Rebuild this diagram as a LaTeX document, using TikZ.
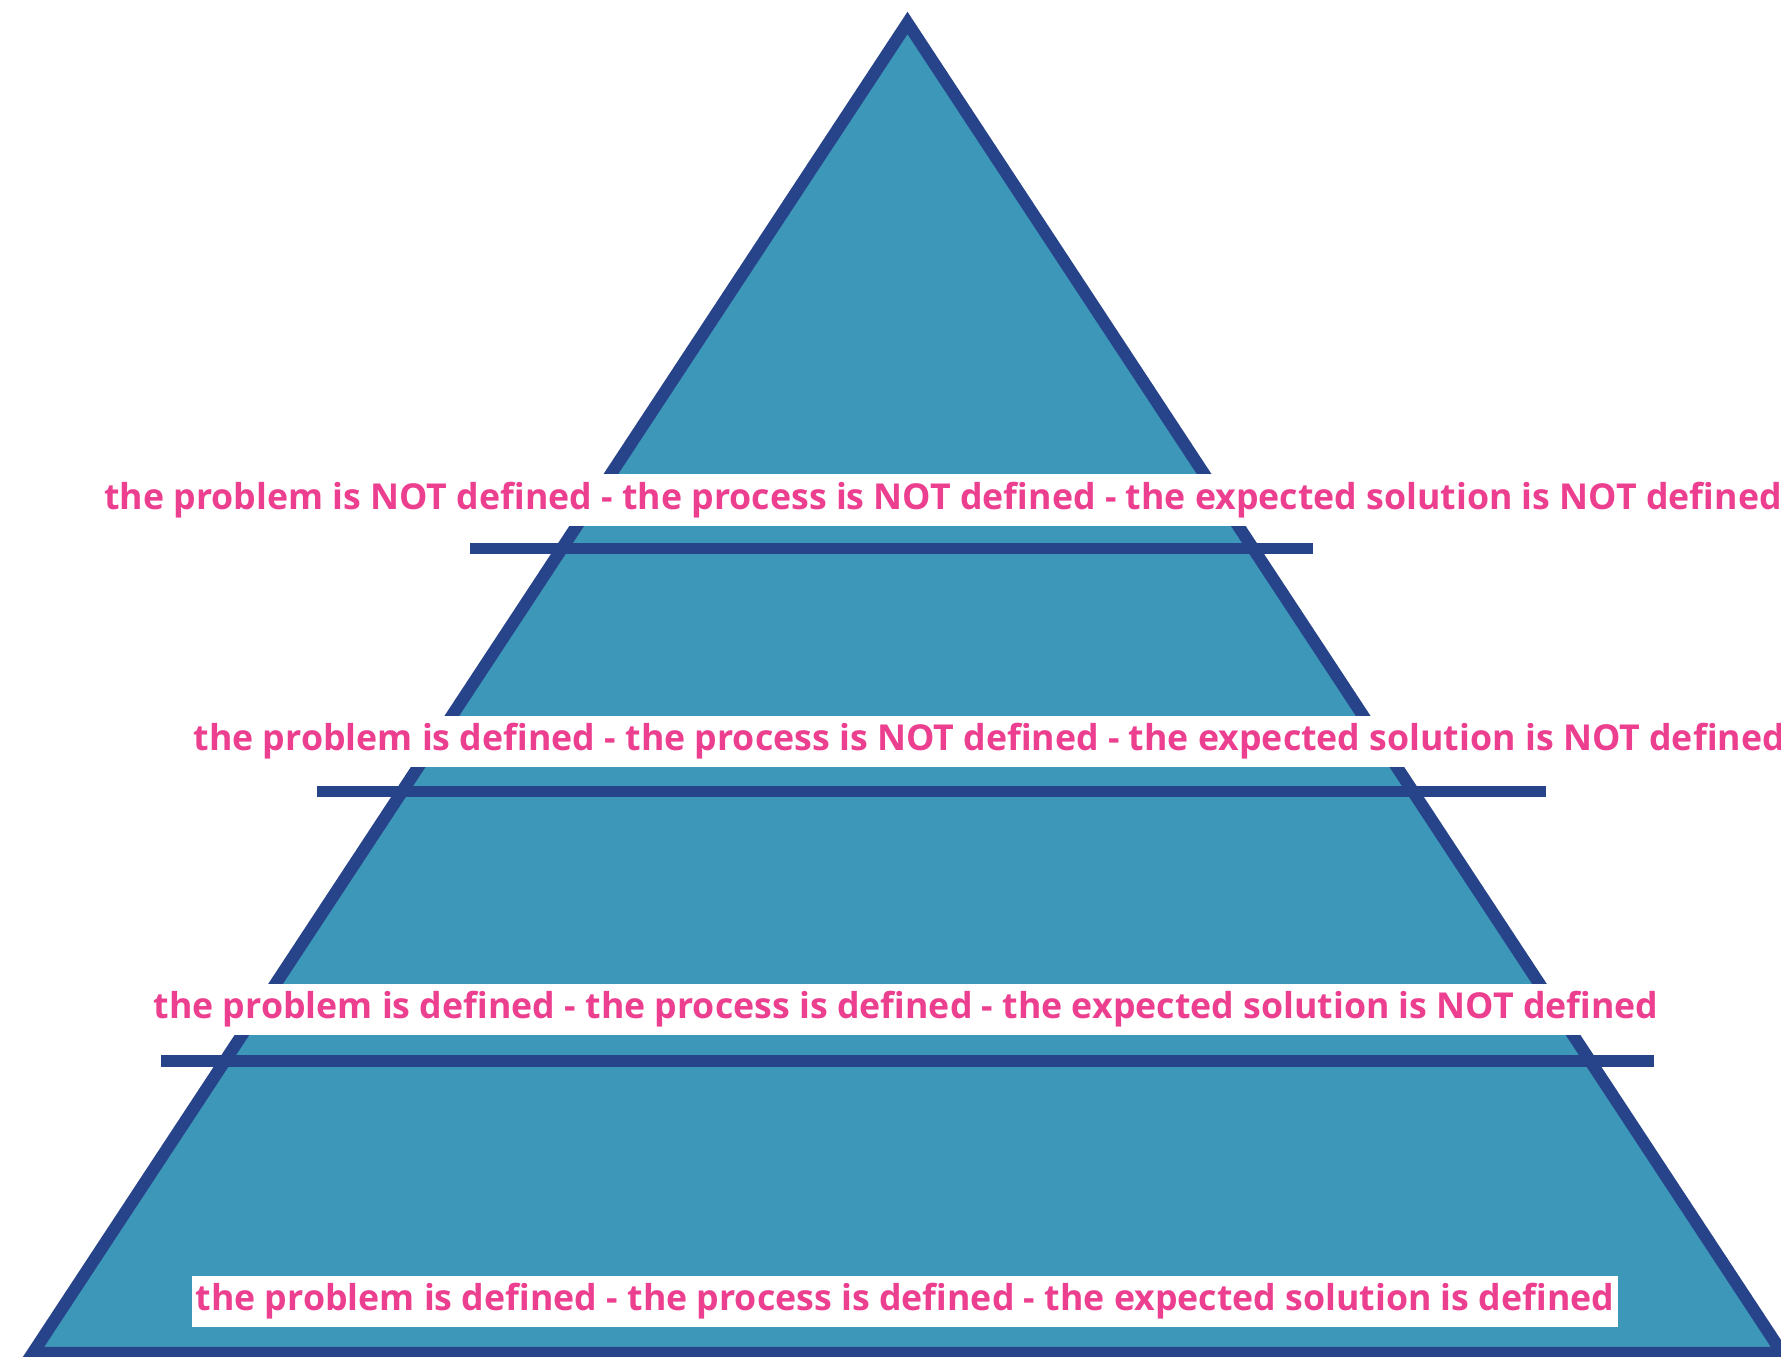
\documentclass[tikz,border=0pt]{standalone}
\usepackage{fontspec}
\setmainfont{Open Sans}
\usepackage{tikz}

\definecolor{pyrfill}{HTML}{3D97B9}
\definecolor{pyrline}{HTML}{27438A}
\definecolor{pyrtext}{HTML}{EC3F8F}

\tikzset{
  levelbar/.style={draw=pyrline, line width=3.3pt},
  levellabel/.style={fill=white, text=pyrtext, anchor=west, inner xsep=0.04cm, inner ysep=0pt,
    minimum height=0.51cm, font=\fontsize{10.15}{12}\selectfont\bfseries},
}

\begin{document}
\begin{tikzpicture}[x=0.01cm, y=-0.01cm]
    \useasboundingbox (0,0) rectangle (1781,1357);
    \coordinate (apex) at (907.5,23);
    \coordinate (left) at (32.8,1353);
    \coordinate (right) at (1782.2,1353);
    \draw [fill=pyrfill, draw=pyrline, line width=3.5pt, miter limit=10] (apex) -- (right) -- (left) -- cycle;
    \draw [levelbar] (470,548.5) -- (1313,548.5);
    \draw [levelbar] (317,791.5) -- (1546,791.5);
    \draw [levelbar] (161,1061) -- (1654,1061);
    \node [levellabel] (lvlone) at (99.5,500) {the problem is NOT defined - the process is NOT defined - the expected solution is NOT defined};
    \node [levellabel] (lvltwo) at (189,741.5) {the problem is defined - the process is NOT defined - the expected solution is NOT defined};
    \node [levellabel] (lvlthree) at (149,1009.5) {the problem is defined - the process is defined - the expected solution is NOT defined};
    \node [levellabel] (lvlfour) at (191,1301.5) {the problem is defined - the process is defined - the expected solution is defined};
\end{tikzpicture}
\end{document}
